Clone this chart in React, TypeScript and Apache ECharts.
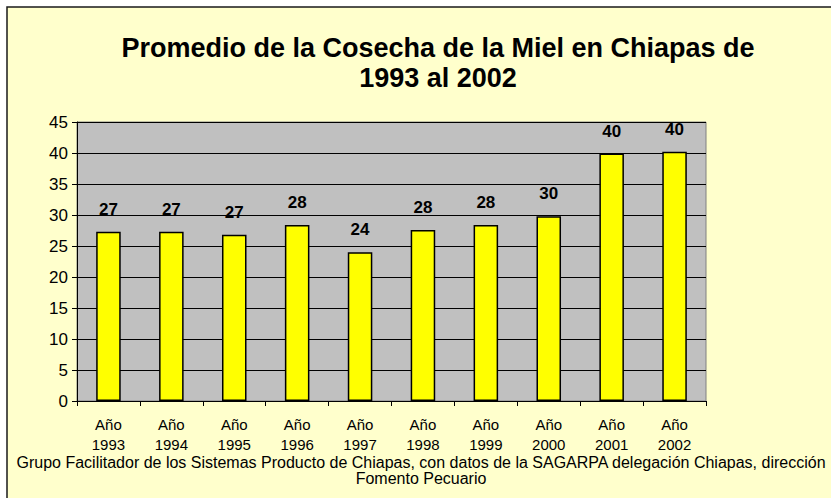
import React, { useEffect, useRef } from "react";
import * as echarts from "echarts";

const years = ["1993", "1994", "1995", "1996", "1997", "1998", "1999", "2000", "2001", "2002"];
const categories = years.map((y) => "Año\n" + y);
const values = [27.3, 27.3, 26.8, 28.4, 24.0, 27.6, 28.4, 29.8, 39.9, 40.2];
const yTicks = { min: 0, max: 45, interval: 5 };
const titleLines = ["Promedio de la Cosecha de la Miel en Chiapas de", "1993 al 2002"];
const sourceLines = [
  "Grupo Facilitador de los Sistemas Producto de Chiapas, con datos de la SAGARPA delegación Chiapas, dirección",
  "Fomento Pecuario",
];

const FONT = "Arial, 'Liberation Sans', sans-serif";

export default function App() {
  const ref = useRef<HTMLDivElement>(null);
  useEffect(() => {
    if (!ref.current) return;
    const chart = echarts.init(ref.current, undefined, { renderer: "svg" });
    chart.setOption({
      animation: false,
      backgroundColor: "#FFFFFF",
      graphic: [
        {
          type: "rect",
          z: -10,
          silent: true,
          shape: { x: 7, y: 7, width: 840, height: 510 },
          style: { fill: "#FFFFCC", stroke: "#1a1a1a", lineWidth: 1.5 },
        },
        {
          type: "text",
          style: {
            text: sourceLines.join("\n"),
            x: 0,
            y: 0,
            font: "16px " + FONT,
            fill: "#000",
            align: "center",
            verticalAlign: "middle",
            lineHeight: 16,
          },
          x: 421,
          y: 470,
        },
      ],
      title: {
        text: titleLines.join("\n"),
        left: 433,
        textAlign: "center",
        top: 28,
        textStyle: {
          fontFamily: FONT,
          fontWeight: "bold",
          fontSize: 27,
          lineHeight: 30,
          color: "#000",
        },
      },
      grid: {
        left: 77,
        top: 122,
        right: 125,
        bottom: 97,
        show: true,
        backgroundColor: "#C0C0C0",
        borderColor: "#808080",
        borderWidth: 1,
      },
      xAxis: {
        type: "category",
        data: categories,
        axisLine: { show: true, lineStyle: { color: "#000", width: 1 } },
        axisTick: { show: true, length: 5, lineStyle: { color: "#000" } },
        axisLabel: {
          fontFamily: FONT,
          fontSize: 15,
          lineHeight: 20,
          color: "#000",
          margin: 13,
          interval: 0,
        },
      },
      yAxis: {
        type: "value",
        min: yTicks.min,
        max: yTicks.max,
        interval: yTicks.interval,
        axisLine: { show: true, lineStyle: { color: "#000", width: 1 } },
        axisTick: { show: true, length: 5, lineStyle: { color: "#000" } },
        axisLabel: { fontFamily: FONT, fontSize: 17, color: "#000", margin: 9 },
        splitLine: { show: true, lineStyle: { color: "#000", width: 1 } },
      },
      series: [
        {
          type: "bar",
          data: values,
          barWidth: "39%",
          itemStyle: { color: "#FFFF00", borderColor: "#000", borderWidth: 1.5 },
          label: {
            show: true,
            position: "top",
            distance: 14,
            formatter: (p: any) => String(Math.round(p.value)),
            fontFamily: FONT,
            fontWeight: "bold",
            fontSize: 17,
            color: "#000",
          },
        },
      ],
    });
    return () => chart.dispose();
  }, []);
  return (
    <div
      ref={ref}
      style={{ position: "fixed", left: 0, top: 0, width: 831, height: 498 }}
    />
  );
}
